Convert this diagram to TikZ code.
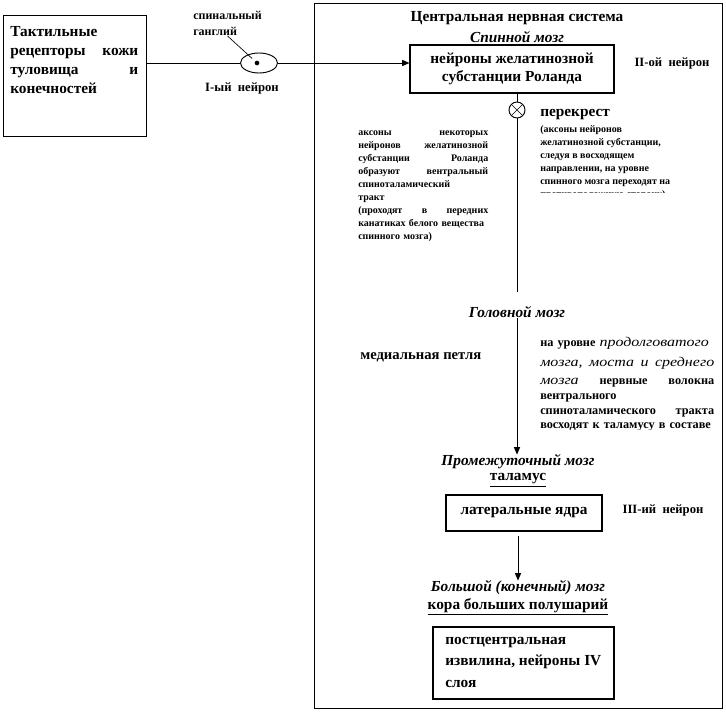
\documentclass[tikz,border=0pt]{standalone}
\usepackage{fontspec}
\setmainfont{Liberation Serif}
\newfontfamily\wideit[FakeStretch=1.2]{Liberation Serif}
\usetikzlibrary{arrows.meta,shapes.geometric}
\newcommand{\wit}[1]{{\wideit\mdseries\itshape\fontsize{10}{11.25}\selectfont #1}}
\begin{document}
\begin{tikzpicture}[x=0.75pt,y=-0.75pt,
  box/.style={draw, line width=0.8pt, inner sep=0pt},
  lbl/.style={inner sep=0pt},
  conn/.style={line width=0.7pt},
  arr/.style={conn,-{Triangle[length=5.5pt,width=4.5pt]}},
  big/.style={font=\fontsize{11.5}{14}\selectfont\bfseries},
  head/.style={font=\fontsize{11.5}{14}\selectfont\bfseries\itshape},
  small/.style={font=\fontsize{7.5}{9.75}\selectfont\bfseries},
  mid/.style={font=\fontsize{9.5}{11}\selectfont\bfseries}]
\useasboundingbox (0,0) rectangle (726,714);

% left box
\node[box, anchor=north west, minimum width=107.25pt, minimum height=90.75pt] (rec) at (3,15) {};
\node[lbl, anchor=north west, text width=96pt, align=left, font=\fontsize{11.5}{14.25}\selectfont\bfseries] (rectext) at (10,26)
  {Тактильные\\ рецепторы\hfill кожи\\ туловища\hfill и\\ конечностей};

% ganglion
\node[draw, ellipse, conn, inner sep=0pt, minimum width=27.75pt, minimum height=15pt] (gang) at (259,63) {};
\node[circle, fill, inner sep=0pt, minimum size=3.5pt] (dot) at (257,63) {};
\node[lbl, anchor=north west, align=left, font=\fontsize{9}{12}\selectfont\bfseries] (glab) at (193,11) {спинальный\\ганглий};
\draw[line width=0.5pt, shorten >=3pt] (glab.south) -- (dot);
\node[lbl, mid] (n1) at (242,88) {I-ый\ \ нейрон};

% CNS frame
\node[box, anchor=north west, minimum width=306pt, minimum height=528.75pt] (cns) at (314,3) {};
\node[lbl, big] (cnsT) at (517,18) {Центральная нервная система};
\node[lbl, head] (spinal) at (517,37) {Спинной мозг};

\node[box, minimum width=153pt, minimum height=36pt, align=center, font=\fontsize{11.5}{13.5}\selectfont\bfseries] (neur) at (512,69)
  {нейроны желатинозной\\субстанции Роланда};
\node[lbl, mid] (n2) at (672,63) {II-ой\ \ нейрон};

\draw[conn] (rec.east |- gang.west) -- (gang.west);
\draw[arr] (gang.east) -- (gang.east -| neur.west);

% crossing
\node[draw, circle, conn, minimum size=12pt, inner sep=0pt,
  path picture={\draw[line width=0.5pt] (path picture bounding box.north west) -- (path picture bounding box.south east)
  (path picture bounding box.north east) -- (path picture bounding box.south west);}] (cross) at (517,110) {};
\draw[conn] (cross |- neur.south) -- (cross.north);
\coordinate (vend) at (517,292);
\draw[conn] (cross.south) -- (vend);

\node[lbl, anchor=west, big] (perk) at (540,115) {перекрест};
\begin{scope}
\clip (530,100) rectangle (722,192);
\node[lbl, anchor=north west, align=left, small] (perkT) at (540,125)
  {(аксоны нейронов\\желатинозной субстанции,\\следуя в восходящем\\направлении, на уровне\\спинного мозга переходят на\\противоположную сторону)};
\end{scope}

\node[lbl, anchor=north west, text width=97.5pt, align=left, small] (axT) at (358,131)
  {аксоны\hfill некоторых\\ нейронов\hfill желатинозной\\ субстанции\hfill Роланда\\ образуют\hfill вентральный\\ спиноталамический\\ тракт\\ (проходят\hfill в\hfill передних\\ канатиках белого вещества\\ спинного мозга)};

% brain
\node[lbl, head] (golov) at (517,312) {Головной мозг};
\node[lbl, anchor=west, font=\fontsize{11}{13}\selectfont\bfseries] (med) at (360,357) {медиальная петля};
\begin{scope}
\clip (530,330) rectangle (722,429);
\node[lbl, anchor=north west, text width=130.5pt, align=left,
  font=\fontsize{9.2}{11.25}\selectfont\bfseries] (lvl) at (540,337)
  {\lineskiplimit=-8pt\relax на уровне \wit{продолговатого}\\[3.75pt]
   \wit{мозга, \hfill моста \hfill и \hfill среднего}\\[2.25pt]
   \wit{мозга}\hfill нервные\hfill волокна\\
   вентрального\\
   спиноталамического\hfill тракта\\[-0.75pt]
   восходят к таламусу в составе};
\end{scope}

\node[lbl, head] (prom) at (518,462) {Промежуточный мозг};
\draw[arr] (golov.south) -- (golov.south |- prom.north);
\node[lbl, big] (thal) at (518,480) {\underline{таламус}};

\node[box, minimum width=117pt, minimum height=27pt, font=\fontsize{11.5}{14}\selectfont\bfseries] (lat) at (524,513) {латеральные ядра};
\node[lbl, mid] (n3) at (663,510) {III-ий\ \ нейрон};

\node[lbl, head] (bolsh) at (518,588) {Большой (конечный) мозг};
\node[lbl, big] (kora) at (518,607) {\underline{кора больших полушарий}};
\draw[arr, shorten <=3pt] (lat.south -| bolsh.north) -- (bolsh.north);

\node[box, minimum width=135.75pt, minimum height=54pt] (post) at (523.5,663) {};
\node[lbl, anchor=north west, align=left, font=\fontsize{11.5}{16}\selectfont\bfseries] (postT) at (445,637)
  {постцентральная\\извилина, нейроны IV\\слоя};
\end{tikzpicture}
\end{document}
